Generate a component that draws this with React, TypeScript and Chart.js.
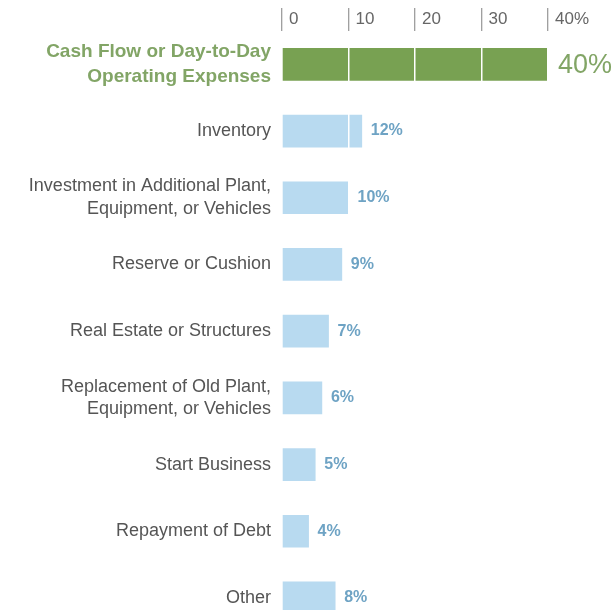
import React, { useEffect, useRef } from "react";
import { Chart, registerables } from "chart.js";

Chart.register(...registerables);

const categories: (string | string[])[] = [
  ["Cash Flow or Day-to-Day", "Operating Expenses"],
  "Inventory",
  ["Investment in Additional Plant,", "Equipment, or Vehicles"],
  "Reserve or Cushion",
  "Real Estate or Structures",
  ["Replacement of Old Plant,", "Equipment, or Vehicles"],
  "Start Business",
  "Repayment of Debt",
  "Other",
];
const values: number[] = [40, 12, 10, 9, 7, 6, 5, 4, 8];
const tickValues: number[] = [0, 10, 20, 30, 40];
const tickLabels: string[] = ["0", "10", "20", "30", "40%"];

const FONT = "'Liberation Sans', Arial, Helvetica, sans-serif";
const GREEN_BAR = "#78a152";
const GREEN_TEXT = "#82a566";
const BLUE_BAR = "#b8daf0";
const BLUE_TEXT = "#6ea3c4";
const GRAY_TEXT = "#555555";
const H = 667;

const valueLabels = {
  id: "valueLabels",
  afterDraw(chart: any) {
    const ctx = chart.ctx;
    const meta = chart.getDatasetMeta(0);
    ctx.save();
    ctx.textBaseline = "middle";
    ctx.textAlign = "left";
    meta.data.forEach((bar: any, i: number) => {
      const first = i === 0;
      ctx.fillStyle = first ? GREEN_TEXT : BLUE_TEXT;
      ctx.font = first ? `normal 27px ${FONT}` : `bold 16px ${FONT}`;
      ctx.fillText(values[i] + "%", bar.x + (first ? 10 : 9), bar.y + (first ? 1 : 0));
    });
    ctx.restore();
  },
};

export default function App() {
  const ref = useRef<HTMLCanvasElement | null>(null);
  useEffect(() => {
    if (!ref.current) return;
    const chart = new Chart(ref.current, {
      type: "bar",
      data: {
        labels: categories,
        datasets: [
          {
            data: values,
            backgroundColor: values.map((_, i) => (i === 0 ? GREEN_BAR : BLUE_BAR)),
            borderWidth: 0,
            barThickness: 32,
          },
        ],
      },
      options: {
        indexAxis: "y",
        animation: false,
        responsive: false,
        maintainAspectRatio: false,
        layout: { autoPadding: false, padding: { left: 0, right: 68, top: 0, bottom: 0 } },
        plugins: {
          legend: { display: false },
          tooltip: { enabled: false },
        },
        scales: {
          x: {
            position: "top",
            min: 0,
            max: 40,
            afterBuildTicks: (scale: any) => {
              scale.ticks = tickValues.map((v) => ({ value: v }));
            },
            afterFit: (scale: any) => {
              scale.height = 31;
            },
            border: { display: false },
            grid: {
              z: 1,
              color: "#ffffff",
              lineWidth: 1.5,
              drawTicks: true,
              tickLength: 23,
              tickColor: "#808080",
              tickWidth: 1,
            },
            ticks: {
              z: 1,
              align: "start",
              labelOffset: 7,
              padding: -22,
              color: "#666666",
              font: { family: FONT, size: 17 },
              maxRotation: 0,
              callback: (_v: any, i: number) => tickLabels[i],
            },
          },
          y: {
            afterFit: (scale: any) => {
              scale.width = 282;
            },
            border: { display: false },
            grid: { display: false, drawTicks: false },
            ticks: {
              padding: 11,
              color: (c: any) => (c.index === 0 ? GREEN_TEXT : GRAY_TEXT),
              font: (c: any) =>
                c.index === 0
                  ? { family: FONT, size: 19, weight: "bold", lineHeight: 1.3 }
                  : { family: FONT, size: 18, lineHeight: 1.25 },
            },
          },
        },
      },
      plugins: [valueLabels],
    } as any);
    return () => chart.destroy();
  }, []);

  return (
    <div style={{ position: "absolute", left: 0, top: 0, width: 616, height: H, background: "#fff" }}>
      <canvas ref={ref} width={616} height={H} style={{ display: "block", width: 616, height: H }} />
    </div>
  );
}
